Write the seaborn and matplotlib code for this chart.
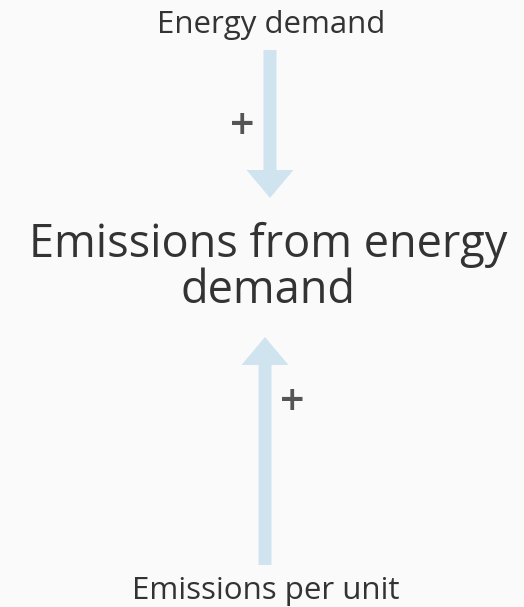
import matplotlib
matplotlib.use("Agg")
import matplotlib.pyplot as plt
import seaborn as sns

# Diagram content
drivers = ["Energy demand", "Emissions per unit"]
signs = ["+", "+"]
outcome = "Emissions from energy\ndemand"

bg = "#fafafa"
arrow_col = "#d0e4ef"
text_col = "#333333"

sns.set_theme(style="white")
plt.rcParams["font.family"] = ["Open Sans", "DejaVu Sans"]

fig = plt.figure(figsize=(5.24, 6.07), dpi=100, facecolor=bg)
ax = fig.add_axes([0, 0, 1, 1])
ax.set_facecolor(bg)
ax.set_xlim(0, 524)
ax.set_ylim(607, 0)
ax.axis("off")

# top driver -> outcome
ax.text(271, 33, drivers[0], ha="center", va="baseline", fontsize=22.5, color=text_col)
ax.arrow(270, 50, 0, 148, width=13, head_width=47, head_length=28,
         length_includes_head=True, color=arrow_col, lw=0)
ax.text(242, 128, signs[0], ha="center", va="center", fontsize=31,
        fontweight="semibold", color="#555555")

# outcome, one line at a time
for line, base in zip(outcome.split("\n"), [257, 303]):
    ax.text(268, base, line, ha="center", va="baseline", fontsize=32.5, color=text_col)

# bottom driver -> outcome
ax.arrow(265, 565, 0, -228, width=13, head_width=47, head_length=28,
         length_includes_head=True, color=arrow_col, lw=0)
ax.text(292, 403, signs[1], ha="center", va="center", fontsize=31,
        fontweight="semibold", color="#555555")
ax.text(266, 599, drivers[1], ha="center", va="baseline", fontsize=22.5, color=text_col)

fig.savefig("out.png", dpi=100, facecolor=bg)
